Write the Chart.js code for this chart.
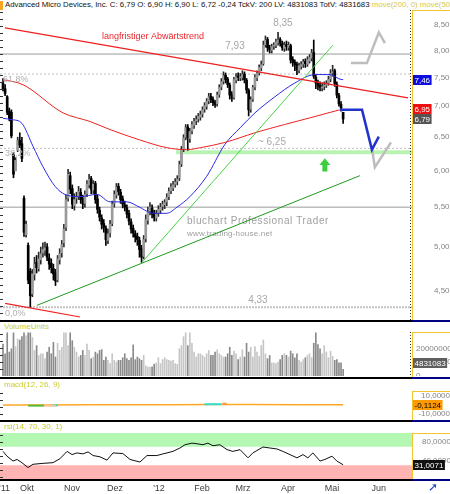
<!DOCTYPE html>
<html>
<head>
<meta charset="utf-8">
<title>AMD</title>
<script src="https://cdn.jsdelivr.net/npm/chart.js@4.4.1/dist/chart.umd.min.js"></script>
<style>
  html, body { margin: 0; padding: 0; background: #fff; }
  #wrap { position: relative; width: 450px; height: 494px; overflow: hidden; font-family: "Liberation Sans", Arial, sans-serif; }
  #wrap canvas { position: absolute; left: 0; }
  .txt { position: absolute; white-space: nowrap; font-size: 8px; line-height: 10px; }
  .sep { position: absolute; left: 0; width: 412px; height: 2px; background: #000; }
  .sepR { position: absolute; left: 412px; width: 38px; height: 2px; background: #000080; }
  .frame { position: absolute; left: 412px; width: 38px; border-left: 1px solid #f2c530; border-top: 1px solid #f2c530; box-sizing: border-box; }
  .tickL { position: absolute; left: 0; width: 3px; background: repeating-linear-gradient(to bottom, #333 0 1px, transparent 1px 7px); }
  .tickR { position: absolute; left: 410px; width: 1px; background: repeating-linear-gradient(to bottom, #333 0 1px, transparent 1px 3px); }
</style>
</head>
<body>
<div id="wrap">
  <canvas id="cMain" width="450" height="310" style="top:10px"></canvas>
  <canvas id="cVol" width="450" height="44" style="top:332px"></canvas>
  <canvas id="cMacd" width="450" height="29" style="top:391px"></canvas>
  <canvas id="cRsi" width="450" height="61" style="top:433px"></canvas>

  <div style="position:absolute;left:0;top:1px;width:3px;height:9px;background:#f5a623"></div>
  <div class="txt" style="left:5px;top:0;color:#111;font-size:7.8px">Advanced Micro Devices, Inc. C: 6,79 O: 6,90 H: 6,90 L: 6,72 -0,24 TckV: 200 LV: 4831083 TotV: 4831683 <span style="color:#d6c94a">move(200, 0) move(50, 0)</span></div>

  <div class="txt" style="left:4px;top:322px;color:#cccc33">VolumeUnits</div>
  <div class="txt" style="left:4px;top:380px;color:#cccc33">macd(12, 26, 9)</div>
  <div class="txt" style="left:4px;top:422px;color:#cccc33">rsi(14, 70, 30, 1)</div>

  <div class="frame" style="top:10px;height:310px"></div>
  <div class="frame" style="top:332px;height:45px"></div>
  <div class="frame" style="top:391px;height:29px"></div>
  <div class="frame" style="top:433px;height:46px"></div>

  <div class="tickL" style="top:12px;height:306px"></div>
  <div class="tickL" style="top:334px;height:42px"></div>
  <div class="tickL" style="top:393px;height:26px"></div>
  <div class="tickL" style="top:435px;height:43px"></div>
  <div class="tickR" style="top:10px;height:310px"></div>
  <div class="tickR" style="top:332px;height:44px"></div>

  <div class="sep" style="top:320px"></div><div class="sepR" style="top:320px"></div>
  <div class="sep" style="top:377px"></div><div class="sepR" style="top:377px"></div>
  <div class="sep" style="top:420px"></div><div class="sepR" style="top:420px"></div>
  <div class="sep" style="top:479px"></div><div class="sepR" style="top:479px"></div>

  <div class="txt" style="left:428px;top:481px;font-size:12px;line-height:13px;color:#1a3fd0">&#10138;</div>
</div>

<script>
// daily bars, Sep 16 2011 .. May 9 2012 (index = trading day)
const opens = [
  7.40, 7.30, 7.16, 6.92, 6.90, 6.24, 6.00, 6.30, 6.45, 6.40,
  5.62, 5.15, 5.02, 4.72, 4.47, 4.68, 4.82, 4.75, 4.85, 4.93,
  4.96, 5.00, 4.87, 4.81, 4.75, 4.70, 4.62, 4.85, 4.93, 5.05,
  5.24, 5.62, 5.93, 5.75, 5.52, 5.62, 5.64, 5.70, 5.62, 5.55,
  5.68, 5.80, 5.89, 5.73, 5.82, 5.61, 5.46, 5.36, 5.29, 5.23,
  5.08, 5.17, 5.29, 5.55, 5.66, 5.78, 5.70, 5.61, 5.53, 5.49,
  5.42, 5.31, 5.23, 5.16, 5.13, 5.08, 4.98, 4.89, 5.10, 5.33,
  5.45, 5.49, 5.42, 5.36, 5.42, 5.46, 5.51, 5.53, 5.57, 5.64,
  5.72, 5.76, 5.81, 5.85, 5.90, 6.10, 6.32, 6.50, 6.66, 6.48,
  6.60, 6.69, 6.76, 6.79, 6.82, 6.87, 6.95, 7.00, 7.09, 7.17,
  7.12, 7.07, 7.04, 7.20, 7.33, 7.43, 7.54, 7.47, 7.36, 7.20,
  7.15, 7.45, 7.52, 7.49, 7.50, 7.56, 7.45, 7.27, 6.95, 7.12,
  7.33, 7.49, 7.58, 7.67, 7.75, 8.11, 8.21, 8.06, 8.00, 8.08,
  8.10, 8.15, 8.21, 8.13, 8.04, 8.11, 8.06, 8.09, 7.83, 7.78,
  7.74, 7.63, 7.70, 7.74, 7.79, 7.74, 7.80, 7.85, 7.96, 7.50,
  7.40, 7.36, 7.31, 7.34, 7.36, 7.40, 7.47, 7.58, 7.62, 7.38,
  7.18, 7.03, 6.90
];
const highs = [
  7.48, 7.37, 7.18, 6.97, 6.94, 6.27, 6.19, 6.50, 6.57, 6.50,
  5.65, 5.32, 5.05, 4.75, 4.74, 4.88, 4.90, 4.94, 5.00, 5.05,
  5.06, 5.04, 4.92, 4.86, 4.80, 4.74, 4.90, 4.98, 5.08, 5.28,
  5.66, 6.02, 5.98, 5.80, 5.68, 5.70, 5.78, 5.75, 5.66, 5.72,
  5.86, 5.95, 5.92, 5.86, 5.85, 5.66, 5.50, 5.40, 5.34, 5.26,
  5.22, 5.33, 5.58, 5.72, 5.82, 5.82, 5.74, 5.65, 5.58, 5.53,
  5.46, 5.35, 5.27, 5.20, 5.17, 5.12, 5.02, 5.14, 5.40, 5.50,
  5.56, 5.53, 5.46, 5.46, 5.52, 5.55, 5.58, 5.60, 5.68, 5.76,
  5.82, 5.85, 5.89, 5.93, 6.14, 6.36, 6.54, 6.70, 6.70, 6.64,
  6.75, 6.80, 6.84, 6.88, 6.92, 6.99, 7.06, 7.13, 7.22, 7.22,
  7.16, 7.10, 7.24, 7.37, 7.48, 7.60, 7.58, 7.50, 7.40, 7.25,
  7.50, 7.57, 7.58, 7.57, 7.62, 7.60, 7.48, 7.30, 7.16, 7.36,
  7.55, 7.62, 7.73, 7.80, 8.18, 8.28, 8.25, 8.10, 8.12, 8.15,
  8.22, 8.35, 8.25, 8.18, 8.16, 8.18, 8.16, 8.12, 7.88, 7.82,
  7.78, 7.76, 7.79, 7.83, 7.84, 7.88, 7.92, 8.02, 8.20, 7.54,
  7.45, 7.42, 7.40, 7.42, 7.44, 7.52, 7.64, 7.72, 7.65, 7.42,
  7.22, 7.08, 6.90
];
const lows = [
  7.26, 7.18, 6.86, 6.76, 6.49, 5.90, 6.00, 6.28, 6.34, 6.13,
  5.13, 5.12, 4.58, 4.33, 4.44, 4.62, 4.70, 4.72, 4.80, 4.88,
  4.90, 4.84, 4.74, 4.70, 4.62, 4.56, 4.60, 4.80, 4.88, 5.00,
  5.20, 5.58, 5.68, 5.48, 5.46, 5.55, 5.60, 5.55, 5.48, 5.50,
  5.64, 5.76, 5.68, 5.68, 5.55, 5.42, 5.32, 5.22, 5.18, 5.02,
  5.04, 5.12, 5.26, 5.50, 5.62, 5.66, 5.55, 5.49, 5.45, 5.36,
  5.27, 5.17, 5.12, 5.06, 5.02, 4.88, 4.82, 4.86, 5.06, 5.28,
  5.40, 5.36, 5.32, 5.32, 5.38, 5.42, 5.46, 5.48, 5.52, 5.60,
  5.68, 5.72, 5.77, 5.80, 5.86, 6.06, 6.28, 6.46, 6.30, 6.42,
  6.55, 6.64, 6.70, 6.74, 6.77, 6.82, 6.90, 6.95, 7.04, 7.06,
  7.01, 6.98, 7.00, 7.15, 7.28, 7.38, 7.40, 7.32, 7.12, 7.08,
  7.12, 7.40, 7.44, 7.44, 7.45, 7.40, 7.22, 6.84, 6.90, 7.08,
  7.28, 7.44, 7.54, 7.62, 7.72, 8.06, 7.98, 7.95, 7.95, 8.02,
  8.05, 8.10, 8.08, 8.00, 7.98, 8.00, 8.00, 7.76, 7.70, 7.62,
  7.55, 7.58, 7.65, 7.68, 7.68, 7.70, 7.76, 7.80, 7.48, 7.30,
  7.28, 7.26, 7.26, 7.28, 7.32, 7.36, 7.42, 7.52, 7.34, 7.14,
  7.00, 6.92, 6.72
];
const closes = [
  7.30, 7.22, 6.90, 6.80, 6.52, 5.95, 6.15, 6.45, 6.38, 6.18,
  5.18, 5.28, 4.62, 4.45, 4.69, 4.80, 4.76, 4.86, 4.92, 4.97,
  4.99, 4.88, 4.80, 4.76, 4.69, 4.61, 4.86, 4.92, 5.03, 5.22,
  5.60, 5.95, 5.74, 5.54, 5.60, 5.63, 5.71, 5.60, 5.54, 5.67,
  5.81, 5.88, 5.74, 5.81, 5.60, 5.47, 5.37, 5.28, 5.24, 5.09,
  5.16, 5.28, 5.54, 5.67, 5.77, 5.71, 5.60, 5.54, 5.50, 5.41,
  5.32, 5.22, 5.17, 5.12, 5.09, 4.97, 4.88, 5.09, 5.34, 5.44,
  5.50, 5.41, 5.37, 5.41, 5.47, 5.50, 5.54, 5.56, 5.63, 5.71,
  5.77, 5.80, 5.84, 5.88, 6.09, 6.31, 6.49, 6.65, 6.49, 6.59,
  6.70, 6.75, 6.78, 6.83, 6.86, 6.94, 7.01, 7.08, 7.16, 7.11,
  7.06, 7.03, 7.19, 7.32, 7.42, 7.53, 7.46, 7.37, 7.19, 7.14,
  7.46, 7.51, 7.50, 7.51, 7.55, 7.46, 7.28, 6.94, 7.11, 7.32,
  7.50, 7.57, 7.68, 7.73, 8.10, 8.20, 8.05, 8.01, 8.07, 8.09,
  8.16, 8.20, 8.14, 8.05, 8.10, 8.07, 8.10, 7.82, 7.77, 7.73,
  7.64, 7.71, 7.73, 7.78, 7.75, 7.82, 7.86, 7.95, 7.52, 7.40,
  7.35, 7.32, 7.33, 7.35, 7.39, 7.46, 7.57, 7.60, 7.39, 7.19,
  7.04, 6.97, 6.79
];
// volume in millions of shares
const volumes = [
  23.3, 16.2, 31.4, 17.4, 19.8, 31.4, 21.4, 26.9, 26.2, 28.6,
  31.4, 29.3, 31.4, 31.4, 28.0, 18.6, 22.1, 15.0, 16.2, 16.2,
  12.6, 17.4, 20.9, 16.2, 24.5, 13.8, 23.8, 18.6, 20.9, 31.4,
  31.4, 22.1, 31.4, 25.7, 20.9, 17.4, 13.8, 15.0, 18.6, 15.0,
  23.3, 18.6, 12.6, 13.8, 17.4, 16.2, 18.6, 19.1, 11.4, 13.8,
  11.4, 9.0, 16.2, 11.4, 10.2, 11.4, 11.4, 13.3, 16.2, 12.6,
  11.4, 13.3, 22.6, 11.9, 13.8, 12.6, 11.4, 15.0, 7.4, 6.5,
  6.5, 6.7, 8.6, 9.5, 13.3, 9.0, 11.9, 13.3, 11.9, 11.4,
  10.9, 11.4, 9.0, 8.6, 19.8, 22.1, 28.6, 31.4, 22.1, 31.4,
  23.8, 17.4, 13.8, 16.2, 16.2, 15.0, 13.8, 16.2, 18.6, 15.0,
  15.0, 17.4, 19.1, 16.2, 15.0, 13.8, 13.8, 16.2, 20.9, 15.0,
  18.1, 16.2, 11.9, 13.8, 19.1, 13.8, 23.8, 17.4, 20.9, 13.8,
  21.4, 17.4, 14.3, 22.1, 26.2, 16.2, 12.6, 15.0, 9.5, 9.5,
  9.0, 10.2, 11.9, 15.0, 16.2, 15.0, 13.8, 18.1, 16.2, 13.3,
  16.2, 11.4, 10.2, 11.9, 13.3, 15.0, 16.2, 13.3, 23.8, 31.4,
  22.8, 19.8, 16.2, 22.1, 17.4, 13.3, 18.1, 14.3, 11.4, 11.9,
  9.5, 9.5, 4.831083
];

// moving averages (bar index, price)
const ma200Idx = [0, 9.5, 28.6, 41.4, 51, 65, 78, 87.6, 94, 105.7, 120, 134, 148.6, 160.5, 162];
const ma200Vals = [7.46, 7.37, 6.89, 6.75, 6.62, 6.46, 6.34, 6.31, 6.34, 6.42, 6.57, 6.70, 6.83, 6.94, 6.95];
const ma50Idx = [0, 4.3, 9, 14.3, 19, 24.8, 29.5, 36.7, 44.8, 51, 59, 65, 71.4, 78, 82.9, 89, 97, 105.7, 113, 120, 129.5, 139, 148.6, 155.7, 161.4, 162];
const ma50Vals = [6.80, 6.78, 6.72, 6.36, 6.06, 5.78, 5.67, 5.64, 5.67, 5.57, 5.57, 5.50, 5.42, 5.42, 5.50, 5.64, 5.92, 6.39, 6.65, 6.89, 7.16, 7.40, 7.55, 7.55, 7.46, 7.46];

// drawn trend lines and projections (bar index, price)
const trendDown = [[0.95, 8.44], [192.9, 7.14]];
const trendDownLow = [[1, 4.37], [36.7, 4.23]];
const trendUpLong = [[16.2, 4.35], [170, 5.93]];
const trendUpSteep = [[66.2, 4.82], [157.1, 8.10]];
const projBlue = [[160.5, 6.94], [171, 6.94], [175.7, 6.31], [179, 6.51]];
const projGrayUp = [[165.7, 7.76], [173.3, 7.76], [179, 8.35], [181.9, 8.14]];
const projGrayDown = [[175.7, 6.34], [177.1, 6.05], [184.8, 6.42]];
const levelsSolid = [7.93, 5.50];
const levelsFib = [7.56, 6.33];
const levelLow = 4.33;
const supportBand = [6.24, 6.30];
const supportBandStart = 82.4;

// macd and rsi
const macdIdx = [0, 20, 40, 60, 80, 100, 120, 140, 162];
const macdVals = [-0.30, -0.40, 0.05, 0.00, 0.12, 0.30, 0.25, 0.10, -0.1124];
const macdBits = [
  {pts: [[12, -1.0], [19.5, -1.0]], color: '#55bb33'},
  {pts: [[19.5, -1.2], [25, -1.2]], color: '#f5c9a0'},
  {pts: [[23.5, -0.7], [26.2, -0.7]], color: '#33ddcc'},
  {pts: [[96, 0.6], [104, 0.6]], color: '#33ddcc'},
  {pts: [[104.5, 1.2], [106.5, 1.2]], color: '#ff9933'}
];
const rsiIdx = [0, 1.9, 4.8, 6.7, 9, 11.9, 14.3, 19, 23.8, 27.1, 30.5, 32.9, 35.2, 38.1, 40.5, 42.9, 46.2, 49.5, 52.4, 57.1, 60.5, 65.2, 68.6, 73.3, 76.2, 78.1, 81, 84.3, 86.7, 90, 92.4, 95.2, 97.6, 100, 103.3, 106.7, 109.5, 112.9, 116.7, 119, 123.8, 127.1, 130.5, 133.3, 136.7, 140, 142.9, 145.2, 147.6, 151, 153.3, 156.7, 159, 162];
const rsiVals = [60, 49.6, 39, 42.5, 35.5, 24.9, 32, 34, 35.5, 44, 60, 53, 56.7, 54.6, 59, 51, 48.2, 41, 56.7, 55.3, 42.5, 36.9, 51, 51, 54.6, 56.7, 60.2, 67.4, 74.5, 78, 76.6, 74.5, 78, 72.3, 74.5, 63.8, 60, 63.8, 46, 56.7, 69.5, 67.4, 65.3, 60, 53, 46, 53, 46, 56.7, 39, 42.5, 49.6, 39, 31.0071];
const rsiBands = {over: 70, under: 30};

// axes
const priceTicks = [4.5, 5, 5.5, 6, 6.5, 7, 7.5, 8, 8.5];
const volTicks = [0, 10000000, 20000000];
const macdTicks = [-10, 10];
const rsiTicks = [40, 80];
const monthIdx = [0.7, 11.4, 32.9, 53.3, 74.3, 94.8, 114.3, 135.7, 156.7, 179];
const monthLabels = ["'11", 'Okt', 'Nov', 'Dez', "'12", 'Feb', 'Mrz', 'Apr', 'Mai', 'Jun'];

const X_MIN = -1.43, X_MAX = 194.8;
const FONT = '"Liberation Sans", Arial, sans-serif';
Chart.defaults.font.family = FONT;
Chart.defaults.font.size = 8;

const fmt = (v, d) => v.toFixed(d).replace('.', ',');
const pts = arr => arr.map(p => ({x: p[0], y: p[1]}));
const zip = (xs, ys) => xs.map((x, i) => ({x: x, y: ys[i]}));
const last = a => a[a.length - 1];
const isUp = i => closes[i] >= opens[i];

function xAxis(display) {
  return {
    type: 'linear', min: X_MIN, max: X_MAX, offset: false, display: display,
    grid: {display: false, drawTicks: false}, border: {display: false}
  };
}
function yAxis(extra, tickVals, label, pad, cross) {
  return Object.assign({
    position: 'right',
    grid: {display: false, drawTicks: false}, border: {display: false},
    afterBuildTicks: s => { s.ticks = tickVals.map(v => ({value: v})); },
    afterFit: s => { s.width = 38; s.paddingTop = 0; s.paddingBottom = 0; },
    ticks: {padding: pad, crossAlign: cross || 'near', color: '#858585', autoSkip: false, font: {size: 8}, callback: label}
  }, extra);
}
function line(data, color, width, order, extra) {
  return Object.assign({type: 'line', data: data, borderColor: color, borderWidth: width,
    pointRadius: 0, fill: false, order: order}, extra || {});
}
function hline(v, color, width, order, dash) {
  return line([{x: X_MIN, y: v}, {x: X_MAX, y: v}], color, width, order, {borderDash: dash || []});
}
const baseOpts = {
  responsive: false, animation: false, events: [],
  layout: {padding: 0},
  plugins: {legend: {display: false}, tooltip: {enabled: false}}
};

// value boxes on the right axis
function axisBoxes(id, items) {
  return {
    id: id,
    afterDraw(chart) {
      const {ctx, chartArea} = chart;
      const y = chart.scales.y;
      ctx.save();
      ctx.font = '8px ' + FONT;
      ctx.textBaseline = 'middle';
      ctx.textAlign = 'left';
      items.forEach(b => {
        let cy = y.getPixelForValue(b.value);
        if (b.clamp) cy = Math.min(cy, chartArea.bottom - b.clamp);
        const w = ctx.measureText(b.text).width + 3;
        ctx.fillStyle = b.bg;
        ctx.fillRect(chartArea.right + 1, Math.round(cy) - 5, w, 10);
        ctx.fillStyle = b.fg;
        ctx.fillText(b.text, chartArea.right + 2.5, Math.round(cy) + 0.5);
      });
      ctx.restore();
    }
  };
}

// texts, watermark and arrow on the price panel
const notes = [
  {x: 71.4, y: 8.26, text: 'langfristiger Abwärtstrend', color: '#e8262b', size: 9, align: 'center'},
  {x: 133.3, y: 8.54, text: '8,35', color: '#a8a8a8', size: 10, align: 'center'},
  {x: 110.5, y: 8.07, text: '7,93', color: '#a8a8a8', size: 10, align: 'center'},
  {x: 121.4, y: 6.43, text: '~ 6,25', color: '#a8a8a8', size: 10, align: 'left'},
  {x: 121.4, y: 4.40, text: '4,33', color: '#a8a8a8', size: 10, align: 'center'},
  {x: 0, y: 7.46, text: '61,8%', color: '#b0b0b0', size: 9, align: 'left'},
  {x: 1, y: 6.25, text: '38,2%', color: '#b0b0b0', size: 9, align: 'left'},
  {x: 1, y: 4.27, text: '0,0%', color: '#b0b0b0', size: 9, align: 'left'}
];
const watermark = [
  {x: 87.6, y: 5.32, text: 'bluchart Professional Trader', size: 10, color: '#a0a0a0', spacing: '0.6px'},
  {x: 87.6, y: 5.16, text: 'www.trading-house.net', size: 8, color: '#a0a0a0', spacing: '0.2px'}
];
const arrowAt = {x: 153.3, top: 6.18, bottom: 5.99};

const mainDecor = {
  id: 'mainDecor',
  beforeDatasetsDraw(chart) {
    const {ctx, scales: {x, y}} = chart;
    ctx.save();
    ctx.textBaseline = 'middle';
    ctx.textAlign = 'left';
    watermark.forEach(w => {
      ctx.font = w.size + 'px ' + FONT;
      ctx.letterSpacing = w.spacing;
      ctx.fillStyle = w.color;
      ctx.fillText(w.text, x.getPixelForValue(w.x), y.getPixelForValue(w.y));
    });
    ctx.letterSpacing = '0px';
    ctx.restore();
  },
  afterDatasetsDraw(chart) {
    const {ctx, scales: {x, y}} = chart;
    ctx.save();
    ctx.textBaseline = 'middle';
    notes.forEach(n => {
      ctx.font = n.size + 'px ' + FONT;
      ctx.fillStyle = n.color;
      ctx.textAlign = n.align;
      ctx.fillText(n.text, x.getPixelForValue(n.x), y.getPixelForValue(n.y));
    });
    const ax = x.getPixelForValue(arrowAt.x);
    const at = y.getPixelForValue(arrowAt.top);
    const ab = y.getPixelForValue(arrowAt.bottom);
    const head = (ab - at) * 0.5;
    ctx.fillStyle = '#3ccf3c';
    ctx.beginPath();
    ctx.moveTo(ax, at);
    ctx.lineTo(ax + 5.5, at + head);
    ctx.lineTo(ax + 2.5, at + head);
    ctx.lineTo(ax + 2.5, ab);
    ctx.lineTo(ax - 2.5, ab);
    ctx.lineTo(ax - 2.5, at + head);
    ctx.lineTo(ax - 5.5, at + head);
    ctx.closePath();
    ctx.fill();
    ctx.restore();
  }
};

// price panel
const idx = closes.map((_, i) => i);
const wickData = idx.map(i => ({x: i, y: [lows[i], highs[i]]}));
const bodyData = idx.map(i => ({x: i, y: [Math.min(opens[i], closes[i]), Math.max(opens[i], closes[i])]}));

new Chart(document.getElementById('cMain'), {
  type: 'bar',
  data: {
    datasets: [
      line(pts(trendDown), '#ee2020', 1.2, 1),
      line(pts(trendDownLow), '#ee2020', 1.2, 1),
      line(pts(trendUpLong), '#1f9a1f', 1, 1),
      line(pts(trendUpSteep), '#44d444', 1, 1),
      line(pts(projBlue), '#2233cc', 2.5, 1),
      line(pts(projGrayUp), '#bdbdbd', 2.5, 1),
      line(pts(projGrayDown), '#bdbdbd', 2.5, 1),
      line(zip(ma200Idx, ma200Vals), '#ee2222', 1, 2, {cubicInterpolationMode: 'monotone'}),
      line(zip(ma50Idx, ma50Vals), '#2a2ae6', 1, 2, {cubicInterpolationMode: 'monotone'}),
      {type: 'bar', data: bodyData, grouped: false, barThickness: 2, minBarLength: 1, order: 3,
        backgroundColor: idx.map(i => isUp(i) ? '#9a9a9a' : '#000'), borderWidth: 0},
      {type: 'bar', data: wickData, grouped: false, barThickness: 1, order: 4,
        backgroundColor: idx.map(i => isUp(i) ? '#2a2a2a' : '#000'), borderWidth: 0},
      ...levelsSolid.map(v => hline(v, '#9a9a9a', 1, 5)),
      ...levelsFib.map(v => hline(v, '#bdbdbd', 1, 5, [2, 2])),
      hline(levelLow, '#c4c4c4', 2, 5, [2, 1]),
      line([{x: supportBandStart, y: supportBand[1]}, {x: X_MAX, y: supportBand[1]}], 'rgba(0,0,0,0)', 0, 6,
        {fill: {value: supportBand[0]}, backgroundColor: '#b9f3b2'})
    ]
  },
  options: Object.assign({}, baseOpts, {
    scales: {
      x: xAxis(false),
      y: yAxis({type: 'logarithmic', min: 4.21, max: 8.81}, priceTicks, v => fmt(v, 2), 22)
    }
  }),
  plugins: [mainDecor, axisBoxes('boxMain', [
    {value: last(ma50Vals), text: fmt(last(ma50Vals), 2), bg: '#0d0de0', fg: '#fff'},
    {value: last(ma200Vals), text: fmt(last(ma200Vals), 2), bg: '#ee1111', fg: '#fff'},
    {value: last(closes), text: fmt(last(closes), 2), bg: '#555', fg: '#fff'}
  ])]
});

// volume panel
new Chart(document.getElementById('cVol'), {
  type: 'bar',
  data: {
    datasets: [{
      data: idx.map(i => ({x: i, y: volumes[i] * 1e6})),
      barThickness: 1, borderWidth: 0,
      backgroundColor: idx.map(i => isUp(i) ? '#c6c6c6' : '#8a8a8a')
    }]
  },
  options: Object.assign({}, baseOpts, {
    scales: {
      x: xAxis(false),
      y: yAxis({type: 'linear', min: 0, max: 32000000}, volTicks, v => String(v), 4)
    }
  }),
  plugins: [axisBoxes('boxVol', [
    {value: last(volumes) * 1e6, text: String(Math.round(last(volumes) * 1e6)), bg: '#5f5f5f', fg: '#fff', clamp: 13}
  ])]
});

// macd panel
new Chart(document.getElementById('cMacd'), {
  type: 'line',
  data: {
    datasets: [
      ...macdBits.map(b => line(pts(b.pts), b.color, 2, 1)),
      line(zip(macdIdx, macdVals), '#ffa628', 1.5, 2)
    ]
  },
  options: Object.assign({}, baseOpts, {
    scales: {
      x: xAxis(false),
      y: yAxis({type: 'linear', min: -17.4, max: 15.7}, macdTicks, v => fmt(v, 4), 5, 'far')
    }
  }),
  plugins: [axisBoxes('boxMacd', [
    {value: last(macdVals), text: fmt(last(macdVals), 4), bg: '#ff9900', fg: '#000'}
  ])]
});

// rsi panel with month axis
new Chart(document.getElementById('cRsi'), {
  type: 'line',
  data: {
    datasets: [
      line(zip(rsiIdx, rsiVals), '#111', 1, 1),
      line([{x: X_MIN, y: 100}, {x: X_MAX, y: 100}], 'rgba(0,0,0,0)', 0, 2,
        {fill: {value: rsiBands.over}, backgroundColor: '#b3f7b3'}),
      line([{x: X_MIN, y: rsiBands.under}, {x: X_MAX, y: rsiBands.under}], 'rgba(0,0,0,0)', 0, 2,
        {fill: {value: 0}, backgroundColor: '#ffb3b3'})
    ]
  },
  options: Object.assign({}, baseOpts, {
    scales: {
      x: Object.assign(xAxis(true), {
        position: 'bottom',
        afterBuildTicks: s => { s.ticks = monthIdx.map(v => ({value: v})); },
        afterFit: s => { s.height = 15; s.paddingLeft = 0; s.paddingRight = 0; },
        ticks: {autoSkip: false, maxRotation: 0, minRotation: 0, padding: 4, color: '#404040',
          font: {size: 9}, callback: (v, i) => monthLabels[i]}
      }),
      y: yAxis({type: 'linear', min: 0, max: 100}, rsiTicks, v => fmt(v, 4), 10)
    }
  }),
  plugins: [axisBoxes('boxRsi', [
    {value: last(rsiVals), text: fmt(last(rsiVals), 4), bg: '#111', fg: '#fff'}
  ])]
});
</script>
</body>
</html>
